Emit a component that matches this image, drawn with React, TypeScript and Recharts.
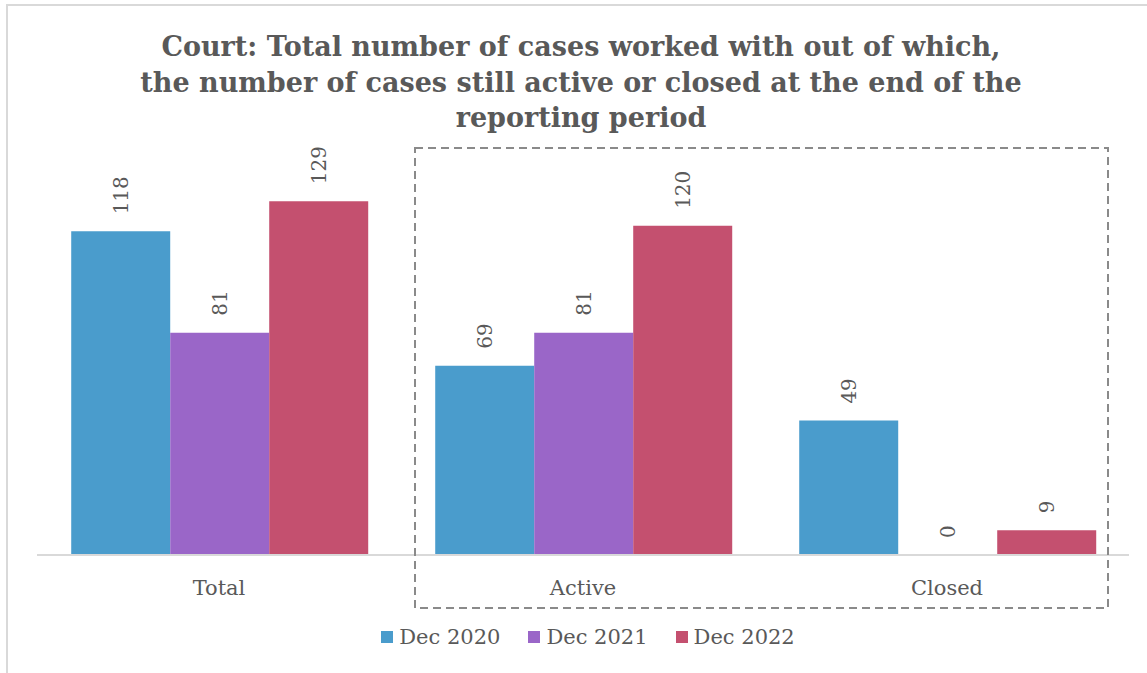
import { BarChart, Bar, XAxis, YAxis, LabelList } from "recharts";

const categories = ["Total", "Active", "Closed"];
const dec2020 = [118, 69, 49];
const dec2021 = [81, 81, 0];
const dec2022 = [129, 120, 9];
const seriesNames = ["Dec 2020", "Dec 2021", "Dec 2022"];
const seriesColors = ["#4a9ccc", "#9a66c8", "#c4506f"];
const titleLines = [
  "Court: Total number of cases worked with out of which,",
  "the number of cases still active or closed at the end of the",
  "reporting period",
];

const data = categories.map((name, i) => ({
  name,
  s0: dec2020[i],
  s1: dec2021[i],
  s2: dec2022[i],
}));

const FONT = "'DejaVu Serif', serif";
const TEXT = "#595959";

const RotatedLabel = (props: any) => {
  const { x, y, width, value } = props;
  const cx = x + width / 2;
  const by = y - 17;
  return (
    <text
      x={cx}
      y={by}
      transform={`rotate(-90 ${cx} ${by})`}
      textAnchor="start"
      dominantBaseline="central"
      fontSize={20}
      fontFamily={FONT}
      fill={TEXT}
    >
      {String(value)}
    </text>
  );
};

export default function App() {
  return (
    <div
      style={{
        position: "absolute",
        left: 0,
        top: 0,
        width: 1147,
        height: 673,
        overflow: "hidden",
        background: "#fff",
      }}
    >
      {/* chart frame, cut off at right and bottom like the source */}
      <div
        style={{
          position: "absolute",
          left: 6,
          top: 4,
          width: 1300,
          height: 900,
          border: "2px solid #d9d9d9",
        }}
      />
      <div
        style={{
          position: "absolute",
          left: 0,
          top: 29,
          width: 1162,
          textAlign: "center",
          fontFamily: FONT,
          fontWeight: "bold",
          fontSize: 27,
          lineHeight: "35.5px",
          color: TEXT,
        }}
      >
        {titleLines.map((t) => (
          <div key={t}>{t}</div>
        ))}
      </div>
      <div style={{ position: "absolute", left: 0, top: 0 }}>
        <BarChart
          width={1147}
          height={673}
          data={data}
          margin={{ top: 171, right: 18, bottom: 78, left: 37 }}
          barCategoryGap="9.4%"
          barGap={0}
        >
          <XAxis
            dataKey="name"
            axisLine={{ stroke: "#d9d9d9", strokeWidth: 2 }}
            tickLine={false}
            tickMargin={19}
            height={40}
            tick={{ fontSize: 21, fontFamily: FONT, fill: TEXT }}
          />
          <YAxis hide domain={[0, 140]} />
          {["s0", "s1", "s2"].map((k, i) => (
            <Bar
              key={k}
              dataKey={k}
              name={seriesNames[i]}
              fill={seriesColors[i]}
              minPointSize={0.01}
              isAnimationActive={false}
            >
              <LabelList dataKey={k} content={RotatedLabel} />
            </Bar>
          ))}
        </BarChart>
      </div>
      {/* dashed annotation box around Active and Closed */}
      <svg
        width={1147}
        height={673}
        style={{ position: "absolute", left: 0, top: 0, pointerEvents: "none" }}
      >
        <rect
          x={415}
          y={148}
          width={693}
          height={460}
          fill="none"
          stroke="#8a8a8a"
          strokeWidth={2}
          strokeDasharray="8 5"
        />
      </svg>
      <div
        style={{
          position: "absolute",
          left: 0,
          top: 625,
          width: 1176,
          display: "flex",
          justifyContent: "center",
          gap: 28,
          fontFamily: FONT,
          fontSize: 21,
          color: TEXT,
        }}
      >
        {seriesNames.map((n, i) => (
          <div key={n} style={{ display: "flex", alignItems: "center" }}>
            <span
              style={{
                display: "inline-block",
                width: 12,
                height: 12,
                background: seriesColors[i],
                marginRight: 6,
              }}
            />
            <span>{n}</span>
          </div>
        ))}
      </div>
    </div>
  );
}
